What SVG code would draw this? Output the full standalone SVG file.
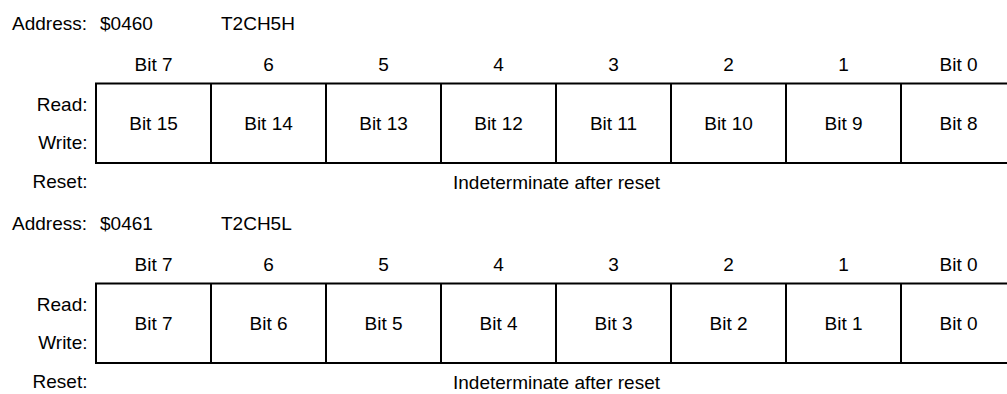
<svg xmlns="http://www.w3.org/2000/svg" width="1007" height="394" viewBox="0 0 1007 394">
<style>
text{font-family:"Liberation Sans",Arial,sans-serif;font-size:19px;fill:#000}
.c{text-anchor:middle}
.r{text-anchor:end}
.box{fill:#fff;stroke:#000;stroke-width:2}
.div{stroke:#000;stroke-width:2}
</style>
<rect width="1007" height="394" fill="#fff"/>
<g id="reg-T2CH5H">
<text x="12" y="29.5">Address:</text>
<text x="100" y="29.5">$0460</text>
<text x="221" y="29.5">T2CH5H</text>
<g id="hdr1">
<text class="c" x="153.5" y="70.5">Bit 7</text>
<text class="c" x="268.5" y="70.5">6</text>
<text class="c" x="383.5" y="70.5">5</text>
<text class="c" x="498.5" y="70.5">4</text>
<text class="c" x="613.5" y="70.5">3</text>
<text class="c" x="728.5" y="70.5">2</text>
<text class="c" x="843.5" y="70.5">1</text>
<text class="c" x="958.5" y="70.5">Bit 0</text>
</g>
<text class="r" x="87.5" y="110.5">Read:</text>
<text class="r" x="87.5" y="148.5">Write:</text>
<rect class="box" x="96" y="83.5" width="920" height="79.5"/>
<g id="div1">
<line class="div" x1="211" y1="83.5" x2="211" y2="163"/>
<line class="div" x1="326" y1="83.5" x2="326" y2="163"/>
<line class="div" x1="441" y1="83.5" x2="441" y2="163"/>
<line class="div" x1="556" y1="83.5" x2="556" y2="163"/>
<line class="div" x1="671" y1="83.5" x2="671" y2="163"/>
<line class="div" x1="786" y1="83.5" x2="786" y2="163"/>
<line class="div" x1="901" y1="83.5" x2="901" y2="163"/>
</g>
<g id="cells1">
<text class="c" x="153.5" y="130">Bit 15</text>
<text class="c" x="268.5" y="130">Bit 14</text>
<text class="c" x="383.5" y="130">Bit 13</text>
<text class="c" x="498.5" y="130">Bit 12</text>
<text class="c" x="613.5" y="130">Bit 11</text>
<text class="c" x="728.5" y="130">Bit 10</text>
<text class="c" x="843.5" y="130">Bit 9</text>
<text class="c" x="958.5" y="130">Bit 8</text>
</g>
<text class="r" x="87.5" y="187.5">Reset:</text>
<text class="c" x="556.5" y="188.5">Indeterminate after reset</text>
</g>
<g id="reg-T2CH5L">
<text x="12" y="229.5">Address:</text>
<text x="100" y="229.5">$0461</text>
<text x="221" y="229.5">T2CH5L</text>
<g id="hdr2">
<text class="c" x="153.5" y="270.5">Bit 7</text>
<text class="c" x="268.5" y="270.5">6</text>
<text class="c" x="383.5" y="270.5">5</text>
<text class="c" x="498.5" y="270.5">4</text>
<text class="c" x="613.5" y="270.5">3</text>
<text class="c" x="728.5" y="270.5">2</text>
<text class="c" x="843.5" y="270.5">1</text>
<text class="c" x="958.5" y="270.5">Bit 0</text>
</g>
<text class="r" x="87.5" y="310.5">Read:</text>
<text class="r" x="87.5" y="348.5">Write:</text>
<rect class="box" x="96" y="283.5" width="920" height="79.5"/>
<g id="div2">
<line class="div" x1="211" y1="283.5" x2="211" y2="363"/>
<line class="div" x1="326" y1="283.5" x2="326" y2="363"/>
<line class="div" x1="441" y1="283.5" x2="441" y2="363"/>
<line class="div" x1="556" y1="283.5" x2="556" y2="363"/>
<line class="div" x1="671" y1="283.5" x2="671" y2="363"/>
<line class="div" x1="786" y1="283.5" x2="786" y2="363"/>
<line class="div" x1="901" y1="283.5" x2="901" y2="363"/>
</g>
<g id="cells2">
<text class="c" x="153.5" y="330">Bit 7</text>
<text class="c" x="268.5" y="330">Bit 6</text>
<text class="c" x="383.5" y="330">Bit 5</text>
<text class="c" x="498.5" y="330">Bit 4</text>
<text class="c" x="613.5" y="330">Bit 3</text>
<text class="c" x="728.5" y="330">Bit 2</text>
<text class="c" x="843.5" y="330">Bit 1</text>
<text class="c" x="958.5" y="330">Bit 0</text>
</g>
<text class="r" x="87.5" y="387.5">Reset:</text>
<text class="c" x="556.5" y="388.5">Indeterminate after reset</text>
</g>
<g id="connectors"></g>
</svg>
